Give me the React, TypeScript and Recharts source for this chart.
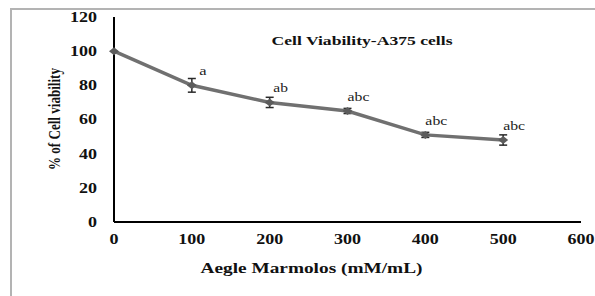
import { CartesianGrid, ErrorBar, Label, LabelList, Line, LineChart, XAxis, YAxis } from "recharts";

const doses = [0, 100, 200, 300, 400, 500];
const viability = [100, 80, 70, 65, 51, 48];
const errors = [0, 4, 3, 1.5, 1.5, 3];
const sigLetters = ["", "a", "ab", "abc", "abc", "abc"];
const xTicks = [0, 100, 200, 300, 400, 500, 600];
const yTicks = [0, 20, 40, 60, 80, 100, 120];

const data = doses.map((d, i) => ({
  dose: d,
  value: viability[i],
  err: errors[i],
  sig: sigLetters[i],
}));

const SERIF = '"Liberation Serif", "Times New Roman", serif';

// the source image is stretched sideways, so text is widened with textLength
function XTick({ x, y, payload }: any) {
  const s = String(payload.value);
  return (
    <text x={x} y={y} dy={14} textAnchor="middle" fontFamily={SERIF} fontWeight="bold" fontSize={14.5}
      fill="#111" textLength={s.length * 9} lengthAdjust="spacingAndGlyphs">
      {s}
    </text>
  );
}

function YTick({ x, y, payload }: any) {
  const s = String(payload.value);
  return (
    <text x={x} y={y} dy="0.34em" textAnchor="end" fontFamily={SERIF} fontWeight="bold" fontSize={14.5}
      fill="#111" textLength={s.length * 9} lengthAdjust="spacingAndGlyphs">
      {s}
    </text>
  );
}

function Diamond({ cx, cy }: any) {
  if (cx == null || cy == null) return null;
  return <polygon points={`${cx - 5},${cy} ${cx},${cy - 4} ${cx + 5},${cy} ${cx},${cy + 4}`} fill="#5c5c5c" />;
}

function SigLabel({ x, y, value }: any) {
  if (!value) return null;
  const s = String(value);
  return (
    <text x={x + 11} y={y - 10} textAnchor="middle" fontFamily={SERIF} fontSize={12} fill="#222"
      textLength={s.length * 7.3} lengthAdjust="spacingAndGlyphs">
      {s}
    </text>
  );
}

export default function App() {
  return (
    <div style={{ position: "relative", width: 595, height: 296, overflow: "hidden", background: "#fff" }}>
      <style>{"body{margin:0}"}</style>
      <div style={{ position: "absolute", left: 10, top: 8, width: 700, height: 400, border: "2px solid #b3b3b3" }} />
      <div style={{ position: "absolute", left: 0, top: 0 }}>
        <LineChart width={595} height={296} data={data} margin={{ top: 17, right: 14, bottom: 44, left: 0 }}>
          <CartesianGrid stroke="none" />
          <XAxis dataKey="dose" type="number" domain={[0, 600]} ticks={xTicks} height={30}
            axisLine={{ stroke: "#000", strokeWidth: 2 }} tickLine={false} tick={<XTick />}>
            <Label content={({ viewBox }: any) => (
              <text x={viewBox.x + viewBox.width / 2 - 36} y={viewBox.y + 51} textAnchor="middle"
                fontFamily={SERIF} fontWeight="bold" fontSize={15} fill="#111"
                textLength={222} lengthAdjust="spacingAndGlyphs">
                Aegle Marmolos (mM/mL)
              </text>
            )} />
          </XAxis>
          <YAxis type="number" domain={[0, 120]} ticks={yTicks} width={114} tickMargin={11}
            axisLine={{ stroke: "#000", strokeWidth: 2 }} tickLine={false} tick={<YTick />}>
            <Label content={({ viewBox }: any) => (
              <g>
                <text transform={`translate(54, ${viewBox.y + 102}) rotate(-90)`} textAnchor="middle"
                  dominantBaseline="central" fontFamily={SERIF} fontWeight="bold" fontSize={16} fill="#111"
                  textLength={102} lengthAdjust="spacingAndGlyphs">
                  % of Cell viability
                </text>
                <text x={362} y={viewBox.y + 28} textAnchor="middle" fontFamily={SERIF} fontWeight="bold"
                  fontSize={12.5} fill="#111" textLength={181} lengthAdjust="spacingAndGlyphs">
                  Cell Viability-A375 cells
                </text>
              </g>
            )} />
          </YAxis>
          <Line dataKey="value" stroke="#707070" strokeWidth={3.5} dot={<Diamond />} activeDot={false}
            isAnimationActive={false}>
            <ErrorBar dataKey="err" direction="y" width={4} stroke="#2a2a2a" strokeWidth={1.5} />
            <LabelList dataKey="sig" content={<SigLabel />} />
          </Line>
        </LineChart>
      </div>
    </div>
  );
}
